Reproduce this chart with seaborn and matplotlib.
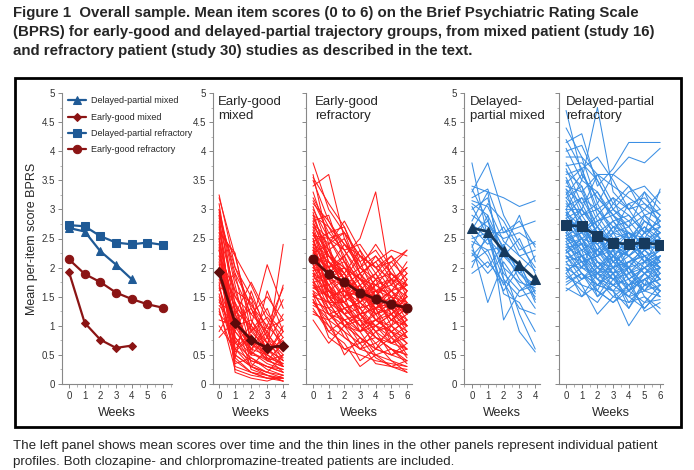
import numpy as np
import pandas as pd
import matplotlib.pyplot as plt
import seaborn as sns
from matplotlib.patches import Rectangle
from matplotlib.ticker import MultipleLocator, FuncFormatter

# Mean scores (left panel)
weeks_mixed = [0, 1, 2, 3, 4]
weeks_refr = [0, 1, 2, 3, 4, 5, 6]
dp_mixed_mean = [2.68, 2.62, 2.28, 2.05, 1.80]
eg_mixed_mean = [1.92, 1.05, 0.76, 0.62, 0.66]
dp_refr_mean = [2.73, 2.71, 2.54, 2.43, 2.40, 2.43, 2.39]
eg_refr_mean = [2.14, 1.89, 1.75, 1.57, 1.46, 1.37, 1.31]

# Individual patient profiles
eg_mixed_profiles = [
    [3.2, 2.2, 1.7, 1.1, 0.6], [3.0, 1.8, 1.2, 0.9, 0.4], [2.9, 0.6, 0.4, 0.3, 0.2],
    [2.8, 1.5, 1.0, 2.05, 1.3], [2.7, 0.9, 0.6, 0.5, 0.3], [2.6, 2.25, 0.9, 0.6, 2.4],
    [2.5, 1.2, 1.75, 1.2, 0.9], [2.4, 0.5, 0.3, 0.2, 0.1], [2.3, 1.0, 0.8, 0.4, 0.5],
    [2.2, 1.6, 1.4, 0.8, 1.7], [2.1, 0.3, 0.2, 0.1, 0.05], [2.0, 1.3, 0.5, 1.6, 0.9],
    [1.9, 0.8, 0.4, 0.3, 0.2], [1.8, 1.1, 1.3, 0.7, 1.2], [1.7, 0.4, 0.2, 0.15, 0.1],
    [1.6, 1.9, 0.7, 0.5, 0.8], [1.5, 0.7, 1.0, 0.6, 0.4], [1.4, 1.2, 0.6, 0.9, 1.45],
    [1.3, 0.25, 0.15, 0.1, 0.1], [1.2, 0.9, 1.5, 0.4, 0.7], [1.1, 1.0, 0.5, 0.8, 0.3],
    [1.0, 0.6, 0.9, 1.3, 0.6], [0.9, 1.4, 0.35, 0.2, 0.5], [0.8, 1.1, 0.7, 0.5, 1.0],
    [2.65, 2.2, 1.1, 0.7, 0.45], [2.95, 1.7, 0.55, 0.35, 0.25], [2.35, 0.2, 0.1, 0.05, 0.15],
    [1.95, 1.5, 1.2, 1.5, 1.1], [1.55, 0.55, 0.85, 0.45, 0.35], [2.15, 1.05, 0.6, 1.0, 1.65],
    [3.1, 1.35, 0.95, 0.55, 0.75], [1.75, 0.35, 0.45, 0.25, 0.15], [2.55, 0.75, 0.3, 0.6, 0.3],
    [1.25, 0.45, 1.6, 0.85, 0.55], [2.05, 1.15, 0.25, 0.15, 0.05],
    [3.25, 2.0, 1.3, 0.8, 0.5], [3.0, 1.2, 0.7, 0.4, 0.3], [2.85, 2.0, 1.5, 0.95, 1.1],
    [2.75, 0.8, 0.5, 0.45, 0.2], [2.6, 1.6, 0.8, 0.5, 0.35], [2.45, 1.25, 1.0, 0.7, 0.6],
    [2.3, 0.7, 0.45, 0.3, 0.25], [2.2, 1.4, 0.9, 1.15, 0.8], [2.0, 0.6, 0.3, 0.2, 0.15],
    [1.85, 1.0, 1.1, 0.6, 0.4], [1.65, 0.9, 0.55, 0.4, 0.3], [1.45, 0.5, 0.3, 0.15, 0.05],
    [1.35, 1.0, 0.8, 0.55, 0.9], [2.9, 1.9, 1.35, 1.0, 0.7], [2.5, 0.45, 0.2, 0.1, 0.1],
]

eg_refr_profiles = [
    [3.8, 3.0, 2.6, 2.2, 2.0, 1.8, 2.0], [3.6, 2.4, 2.8, 2.3, 1.9, 2.2, 1.7],
    [3.4, 3.6, 2.5, 2.0, 2.4, 2.0, 2.3], [3.2, 2.7, 2.2, 2.5, 3.3, 1.7, 1.5],
    [3.0, 2.5, 2.6, 1.9, 2.1, 2.3, 2.2], [2.9, 2.2, 1.9, 2.3, 1.6, 1.5, 1.2],
    [2.8, 2.9, 2.1, 1.7, 1.9, 1.4, 1.8], [2.7, 2.0, 2.4, 2.1, 1.5, 1.9, 1.6],
    [2.6, 2.3, 1.6, 1.4, 1.8, 1.2, 1.0], [2.5, 1.8, 2.0, 1.6, 1.3, 1.6, 1.9],
    [2.45, 2.6, 2.3, 1.8, 2.2, 1.8, 1.4], [2.4, 1.6, 1.4, 1.2, 0.9, 1.0, 0.7],
    [2.35, 2.1, 1.8, 2.0, 1.7, 2.0, 1.5], [2.3, 1.9, 2.2, 1.3, 1.4, 1.1, 1.3],
    [2.25, 2.4, 1.5, 1.9, 1.2, 1.3, 0.9], [2.2, 1.7, 1.9, 1.5, 1.6, 1.7, 2.0],
    [2.15, 1.5, 1.2, 1.0, 0.8, 0.6, 0.5], [2.1, 2.2, 2.0, 1.6, 1.9, 1.5, 1.7],
    [2.05, 1.4, 1.7, 1.1, 1.0, 1.2, 0.8], [2.0, 1.8, 1.3, 1.4, 1.1, 0.9, 1.1],
    [1.95, 2.0, 1.6, 1.8, 1.4, 1.6, 1.2], [1.9, 1.3, 1.1, 0.8, 0.6, 0.5, 0.4],
    [1.85, 1.6, 1.8, 1.2, 1.5, 1.0, 1.6], [1.8, 1.9, 1.4, 1.7, 1.2, 1.4, 1.0],
    [1.75, 1.2, 0.9, 0.7, 1.0, 0.8, 0.6], [1.7, 1.5, 1.6, 1.3, 0.9, 1.1, 1.4],
    [1.65, 1.7, 1.0, 0.9, 1.3, 0.7, 0.9], [1.6, 1.1, 1.3, 1.0, 0.7, 0.9, 0.5],
    [1.55, 0.8, 0.6, 0.5, 0.4, 0.35, 0.3], [1.5, 1.4, 1.2, 1.5, 1.1, 1.3, 1.1],
    [1.45, 1.0, 0.8, 0.6, 0.7, 0.4, 0.2], [1.4, 1.3, 1.5, 0.9, 1.0, 1.2, 0.8],
    [1.3, 0.9, 0.7, 0.3, 0.5, 0.6, 0.35], [1.2, 1.1, 0.5, 0.8, 0.45, 0.3, 0.4],
    [1.1, 0.7, 1.0, 0.6, 0.9, 0.5, 0.7], [3.1, 2.8, 2.4, 2.2, 2.0, 2.2, 1.9],
    [2.95, 2.1, 1.7, 1.5, 1.3, 1.5, 1.1], [2.75, 2.5, 2.3, 1.9, 2.1, 1.7, 2.1],
    [2.65, 1.9, 2.0, 1.6, 1.4, 1.1, 1.3], [2.55, 2.2, 1.8, 2.2, 1.8, 1.9, 1.6],
    [2.5, 1.5, 1.1, 1.2, 0.8, 0.7, 0.6], [2.2, 2.0, 2.1, 1.8, 1.5, 1.4, 1.8],
    [2.0, 1.6, 1.5, 1.3, 1.6, 1.2, 1.5], [1.85, 2.1, 1.9, 1.4, 1.7, 1.8, 1.3],
    [1.6, 1.4, 1.0, 1.1, 0.6, 1.0, 0.8], [1.35, 1.2, 1.3, 1.0, 1.2, 0.8, 1.0],
    [2.85, 2.3, 2.5, 1.9, 1.6, 1.6, 1.4], [2.3, 1.7, 1.4, 1.7, 1.3, 1.5, 1.2],
    [1.75, 1.5, 1.2, 0.9, 1.1, 0.9, 0.7], [2.6, 2.0, 1.6, 1.5, 1.4, 1.3, 1.6],
    [3.5, 2.8, 2.3, 2.4, 2.0, 2.1, 1.8], [3.3, 2.5, 2.0, 1.8, 1.6, 1.3, 1.5],
    [3.15, 2.6, 2.7, 2.1, 2.3, 1.9, 1.7], [3.05, 2.3, 1.8, 1.6, 1.2, 1.4, 1.0],
    [2.9, 2.7, 2.4, 2.0, 1.8, 2.1, 2.3], [2.8, 2.1, 1.7, 1.2, 1.3, 0.9, 0.8],
    [2.7, 2.4, 2.6, 2.2, 2.0, 1.6, 1.7], [2.6, 1.8, 1.5, 1.7, 1.1, 1.2, 1.4],
    [2.55, 2.5, 2.1, 1.5, 1.7, 1.5, 1.2], [2.45, 1.9, 1.7, 1.9, 1.5, 1.1, 0.9],
    [2.4, 2.2, 1.9, 1.4, 1.6, 1.8, 1.6], [2.3, 1.4, 1.0, 0.8, 0.6, 0.8, 0.45],
    [2.25, 2.0, 2.2, 1.7, 1.4, 1.6, 1.3], [2.2, 1.5, 1.6, 1.2, 1.0, 0.7, 0.9],
    [2.1, 1.9, 1.5, 1.6, 1.3, 1.4, 1.2], [2.05, 1.7, 1.2, 0.9, 1.1, 0.9, 0.6],
    [2.0, 2.3, 1.9, 1.5, 1.8, 1.6, 1.9], [1.95, 1.4, 1.4, 1.1, 0.8, 0.6, 0.5],
    [1.9, 1.7, 1.3, 1.4, 1.2, 1.3, 1.0], [1.8, 1.2, 1.0, 1.2, 0.9, 0.7, 0.8],
    [1.75, 1.8, 1.7, 1.2, 1.3, 1.2, 1.5], [1.7, 1.3, 0.8, 0.6, 0.5, 0.3, 0.25],
    [1.65, 1.5, 1.4, 1.0, 1.1, 1.0, 1.2], [1.55, 1.2, 1.1, 0.7, 0.8, 0.6, 0.4],
    [1.5, 1.6, 1.2, 1.3, 1.0, 0.9, 1.1], [1.45, 0.9, 1.1, 0.9, 0.5, 0.4, 0.3],
    [1.4, 1.1, 0.9, 0.4, 0.6, 0.5, 0.6], [1.25, 1.0, 0.6, 0.7, 0.35, 0.3, 0.2],
    [2.75, 2.2, 2.0, 1.8, 1.7, 1.5, 1.4], [2.35, 1.6, 1.3, 1.1, 1.4, 1.1, 1.0],
    [3.55, 3.1, 2.7, 2.0, 2.2, 1.9, 1.6], [2.15, 2.1, 1.8, 1.6, 1.5, 1.8, 1.7],
]

dp_mixed_profiles = [
    [3.8, 2.5, 2.2, 1.9, 1.7], [3.4, 3.3, 3.2, 3.05, 3.15], [3.3, 3.8, 2.9, 2.4, 2.0],
    [3.2, 3.35, 2.6, 2.7, 2.8], [3.1, 2.9, 2.3, 1.8, 1.5], [3.0, 3.2, 2.0, 1.2, 0.6],
    [2.9, 2.7, 2.5, 2.6, 2.4], [2.8, 3.3, 1.8, 0.9, 0.55], [2.7, 2.4, 2.7, 2.2, 2.3],
    [2.6, 2.8, 2.2, 2.5, 1.9], [2.55, 2.2, 1.6, 2.0, 1.4], [2.5, 2.6, 1.9, 1.6, 1.7],
    [2.4, 1.4, 2.1, 1.7, 1.3], [2.35, 2.9, 1.1, 1.6, 1.8], [2.3, 2.0, 2.4, 1.9, 2.2],
    [2.2, 2.5, 1.8, 1.5, 1.6], [2.1, 2.3, 1.7, 2.1, 1.45], [2.0, 2.6, 2.6, 2.8, 2.35],
    [1.9, 2.1, 1.75, 1.3, 1.2], [2.65, 3.1, 2.8, 2.3, 2.45], [2.45, 2.3, 2.35, 2.9, 2.1],
    [3.05, 2.55, 1.55, 1.4, 0.9], [3.35, 2.8, 2.35, 1.9, 1.6], [2.75, 2.5, 2.0, 1.75, 1.65],
    [2.25, 1.9, 2.2, 2.05, 1.55], [3.15, 3.05, 2.45, 2.2, 1.95],
]

dp_refr_profiles = [
    [4.7, 3.6, 3.2, 2.9, 2.6, 2.4, 2.3], [4.15, 4.3, 3.4, 3.7, 4.15, 4.15, 4.15],
    [4.05, 3.5, 4.75, 3.3, 3.0, 3.1, 2.8], [3.9, 3.9, 3.1, 3.6, 3.9, 3.8, 4.05],
    [3.7, 3.1, 3.3, 2.8, 2.9, 2.6, 3.35], [3.6, 3.7, 2.9, 3.2, 2.5, 2.8, 2.6],
    [3.5, 2.9, 3.0, 2.6, 3.1, 3.2, 2.9], [3.4, 3.3, 2.7, 2.4, 2.2, 2.5, 2.1],
    [3.3, 2.6, 2.8, 3.0, 2.7, 2.3, 2.5], [3.2, 3.4, 2.5, 2.2, 2.4, 2.9, 2.7],
    [3.1, 2.8, 2.2, 2.5, 1.9, 2.1, 2.0], [3.0, 3.0, 2.6, 2.1, 2.3, 2.6, 2.4],
    [2.95, 2.4, 2.3, 1.9, 2.0, 1.7, 1.8], [2.9, 3.2, 3.0, 2.7, 2.8, 3.0, 2.8],
    [2.85, 2.5, 2.0, 2.3, 1.6, 1.9, 2.2], [2.8, 2.7, 2.4, 2.6, 2.5, 2.2, 2.3],
    [2.75, 2.2, 1.8, 1.7, 1.5, 1.6, 1.9], [2.7, 3.0, 2.7, 2.3, 2.6, 2.4, 2.6],
    [2.65, 2.3, 2.1, 2.0, 2.1, 2.3, 2.0], [2.6, 2.9, 2.5, 2.8, 2.4, 2.7, 2.5],
    [2.55, 2.1, 1.7, 1.6, 1.0, 1.4, 1.7], [2.5, 2.6, 2.2, 2.4, 2.2, 2.0, 2.2],
    [2.45, 2.0, 2.6, 2.1, 2.3, 2.5, 2.4], [2.4, 2.5, 1.9, 1.8, 1.9, 1.6, 1.5],
    [2.35, 2.2, 2.3, 2.5, 2.0, 2.1, 2.3], [2.3, 1.9, 1.6, 1.4, 1.7, 1.3, 1.6],
    [2.25, 2.4, 2.0, 2.2, 2.5, 2.3, 2.1], [2.2, 1.8, 2.1, 1.9, 1.6, 1.8, 1.9],
    [2.15, 2.3, 1.5, 1.7, 1.8, 1.25, 1.4], [2.1, 1.7, 1.2, 1.5, 1.4, 1.5, 1.2],
    [2.05, 2.0, 1.9, 2.0, 2.2, 1.9, 2.1], [2.0, 1.5, 1.7, 1.6, 1.3, 1.7, 1.8],
    [1.95, 2.1, 2.2, 2.3, 1.9, 2.2, 2.0], [1.9, 1.6, 1.4, 1.8, 1.5, 1.3, 1.6],
    [1.8, 2.0, 1.8, 1.5, 1.7, 2.0, 1.7], [1.7, 1.9, 1.5, 1.9, 1.3, 1.8, 1.5],
    [1.6, 1.8, 2.0, 1.7, 2.0, 1.5, 1.3], [3.75, 3.8, 3.5, 3.0, 3.3, 3.4, 3.1],
    [3.55, 3.0, 3.6, 3.4, 3.2, 3.0, 3.3], [3.25, 3.6, 3.2, 2.9, 2.7, 3.3, 3.0],
    [3.15, 2.7, 2.4, 2.7, 2.6, 2.4, 2.7], [2.9, 2.6, 2.9, 2.5, 2.3, 2.8, 2.6],
    [2.7, 2.8, 2.3, 2.0, 2.1, 2.2, 1.8], [2.5, 2.4, 2.7, 2.4, 2.6, 2.5, 2.9],
    [2.3, 2.5, 2.4, 2.0, 2.4, 2.1, 2.5], [2.2, 2.1, 1.8, 2.1, 1.8, 2.0, 2.2],
    [3.0, 2.5, 2.1, 1.8, 1.7, 1.9, 1.6], [2.6, 2.2, 1.9, 2.2, 2.0, 1.6, 2.0],
    [1.85, 1.7, 1.6, 1.4, 1.6, 1.4, 1.45], [3.35, 3.1, 2.6, 2.8, 2.5, 2.7, 2.4],
    [4.4, 3.9, 3.6, 3.1, 3.4, 2.9, 3.0], [4.2, 3.7, 3.9, 3.5, 3.0, 3.3, 2.7],
    [4.0, 4.1, 3.5, 3.0, 2.8, 2.5, 2.6], [3.8, 3.3, 3.6, 3.6, 3.4, 3.1, 2.9],
    [3.65, 3.4, 2.8, 2.9, 2.5, 2.3, 2.4], [3.45, 3.7, 3.0, 3.2, 3.0, 2.6, 2.8],
    [3.35, 2.8, 2.5, 2.1, 2.4, 2.2, 2.0], [3.2, 2.9, 3.1, 2.6, 2.7, 2.9, 2.5],
    [3.05, 3.2, 2.7, 2.3, 2.2, 2.4, 2.1], [2.95, 2.7, 2.3, 2.7, 2.4, 2.1, 2.3],
    [2.85, 3.0, 2.6, 2.2, 2.0, 2.3, 2.6], [2.8, 2.4, 2.0, 1.9, 2.1, 1.9, 1.7],
    [2.75, 2.6, 2.8, 2.4, 2.3, 2.6, 2.7], [2.65, 2.8, 2.2, 2.5, 2.6, 2.1, 2.2],
    [2.6, 2.3, 2.5, 2.2, 1.8, 2.0, 2.1], [2.55, 2.7, 2.1, 1.8, 2.0, 2.4, 2.5],
    [2.5, 2.2, 1.9, 2.3, 2.5, 2.2, 1.9], [2.45, 2.6, 2.4, 2.0, 1.7, 1.8, 2.0],
    [2.4, 2.1, 2.2, 2.6, 2.2, 2.4, 2.3], [2.35, 2.4, 1.8, 1.6, 1.9, 2.0, 1.8],
    [2.3, 2.0, 2.3, 2.1, 2.0, 1.7, 2.2], [2.25, 2.5, 2.2, 1.9, 2.3, 2.5, 2.4],
    [2.2, 1.9, 1.7, 2.0, 1.6, 1.8, 1.6], [2.1, 2.2, 2.0, 1.8, 2.1, 2.2, 1.9],
    [2.0, 1.8, 1.9, 1.7, 1.5, 1.9, 2.0], [1.9, 2.2, 1.6, 2.2, 1.8, 1.6, 1.7],
    [1.75, 1.9, 1.7, 1.9, 1.4, 1.7, 1.6], [1.65, 1.5, 1.9, 1.6, 1.6, 2.1, 1.8],
    [3.0, 3.5, 3.3, 2.9, 3.1, 2.8, 2.6], [2.7, 2.5, 2.7, 3.1, 2.9, 2.6, 2.8],
]

title = ("Figure 1  Overall sample. Mean item scores (0 to 6) on the Brief Psychiatric Rating Scale\n"
         "(BPRS) for early-good and delayed-partial trajectory groups, from mixed patient (study 16)\n"
         "and refractory patient (study 30) studies as described in the text.")
caption = ("The left panel shows mean scores over time and the thin lines in the other panels represent individual patient\n"
           "profiles. Both clozapine- and chlorpromazine-treated patients are included.")

BLUE = '#1f5a96'
RED = '#8b1414'
NAVY = '#163a5e'
DARKRED = '#5e0a0a'
THIN_RED = '#ff1c1c'
THIN_BLUE = '#3b8fe4'


def to_long(profiles, weeks):
    rows = []
    for i, prof in enumerate(profiles):
        for w, v in zip(weeks, prof):
            rows.append((i, w, v))
    return pd.DataFrame(rows, columns=['patient', 'week', 'score'])


sns.set_style('ticks')
plt.rcParams['font.family'] = ['Liberation Sans', 'DejaVu Sans']

fig = plt.figure(figsize=(6.94, 4.70), dpi=100)
W, H = 694, 470


def add_ax(left, right):
    return fig.add_axes([left / W, 1 - 384 / H, (right - left) / W, (384 - 93) / H])


ax1 = add_ax(62, 172)
ax2 = add_ax(213, 288)
ax3 = add_ax(306, 412)
ax4 = add_ax(464, 540)
ax5 = add_ax(559, 663)

# left panel: means
sns.lineplot(x=weeks_mixed, y=dp_mixed_mean, ax=ax1, color=BLUE, marker='^', ms=6, mec=BLUE,
             lw=1.6, label='Delayed-partial mixed')
sns.lineplot(x=weeks_mixed, y=eg_mixed_mean, ax=ax1, color=RED, marker='D', ms=4, mec=RED,
             lw=1.6, label='Early-good mixed')
sns.lineplot(x=weeks_refr, y=dp_refr_mean, ax=ax1, color=BLUE, marker='s', ms=6, mec=BLUE,
             lw=1.6, label='Delayed-partial refractory')
sns.lineplot(x=weeks_refr, y=eg_refr_mean, ax=ax1, color=RED, marker='o', ms=6, mec=RED,
             lw=1.6, label='Early-good refractory')
ax1.legend(loc='upper left', bbox_to_anchor=(0.035, 0.995), frameon=False, fontsize=6.5,
           handlelength=2.0, handletextpad=0.6, labelspacing=0.82, borderpad=0.2, borderaxespad=0)
ax1.set_ylabel('Mean per-item score BPRS', fontsize=9, labelpad=3)

# individual profiles
panels = [
    (ax2, eg_mixed_profiles, weeks_mixed, THIN_RED, eg_mixed_mean, DARKRED, 'D', 5, 'Early-good\nmixed', 0.07),
    (ax3, eg_refr_profiles, weeks_refr, THIN_RED, eg_refr_mean, DARKRED, 'o', 6.5, 'Early-good\nrefractory', 0.085),
    (ax4, dp_mixed_profiles, weeks_mixed, THIN_BLUE, dp_mixed_mean, NAVY, '^', 6.5, 'Delayed-\npartial mixed', 0.08),
    (ax5, dp_refr_profiles, weeks_refr, THIN_BLUE, dp_refr_mean, NAVY, 's', 6.5, 'Delayed-partial\nrefractory', 0.065),
]
for ax, profs, wks, c, mean, mc, mk, ms, name, tx in panels:
    df = to_long(profs, wks)
    sns.lineplot(data=df, x='week', y='score', units='patient', estimator=None,
                 color=c, lw=0.75, ax=ax, zorder=2)
    sns.lineplot(x=wks, y=mean, ax=ax, color=mc, marker=mk, ms=ms, mec=mc, lw=2.0, zorder=3)
    ax.text(tx, 0.99, name, transform=ax.transAxes, va='top', ha='left', fontsize=9.5,
            linespacing=1.25)
    ax.set_ylabel('')

limits = {ax1: (-0.45, 6.57), ax2: (-0.38, 4.3), ax3: (-0.45, 6.32),
          ax4: (-0.5, 4.3), ax5: (-0.45, 6.18)}
for ax in [ax1, ax2, ax3, ax4, ax5]:
    ax.set_ylim(0, 5)
    ax.set_xlim(*limits[ax])
    wks = weeks_refr if ax in (ax1, ax3, ax5) else weeks_mixed
    ax.set_xticks(wks)
    ax.xaxis.set_minor_locator(MultipleLocator(0.5))
    ax.yaxis.set_major_locator(MultipleLocator(0.5))
    ax.yaxis.set_minor_locator(MultipleLocator(0.25))
    ax.yaxis.set_major_formatter(FuncFormatter(lambda v, p: f'{v:g}'))
    ax.tick_params(which='major', length=3, width=0.7, color='#888888', labelsize=7,
                   labelcolor='#333333', pad=2)
    ax.tick_params(which='minor', length=1.8, width=0.5, color='#999999')
    ax.set_xlabel('Weeks', fontsize=9, labelpad=4)
    sns.despine(ax=ax)
    for s in ['left', 'bottom']:
        ax.spines[s].set_color('#888888')
        ax.spines[s].set_linewidth(0.8)
    ax.patch.set_alpha(0)

for ax in (ax3, ax5):
    ax.tick_params(axis='y', labelleft=False)

# frame around plots
fig.patches.append(Rectangle((15 / W, 1 - 427 / H), (681 - 15) / W, (427 - 78) / H,
                             transform=fig.transFigure, fill=False, lw=2, ec='black'))

fig.text(13 / W, 1 - 6 / H, title, fontsize=10.8, fontweight='bold', va='top', ha='left',
         linespacing=1.45)
fig.text(13 / W, 1 - 440 / H, caption, fontsize=9.6, va='top', ha='left', linespacing=1.45)

fig.savefig('out.png', dpi=100)
